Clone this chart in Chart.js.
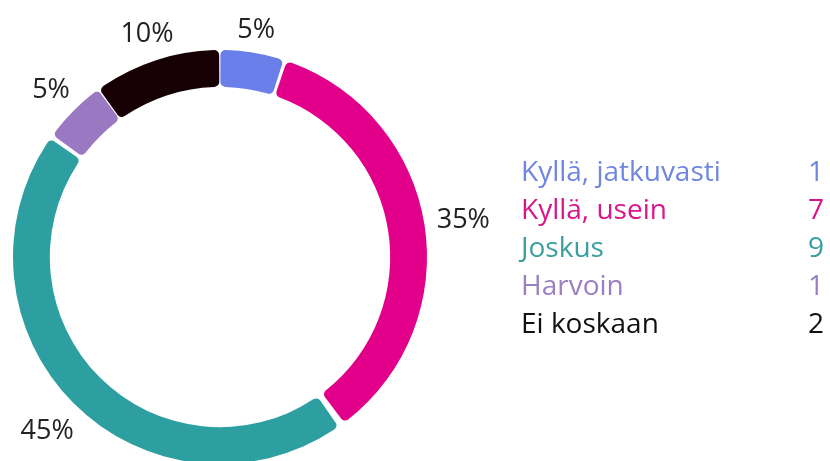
<!DOCTYPE html>
<html>
<head>
<meta charset="utf-8">
<script src="https://cdn.jsdelivr.net/npm/chart.js@4/dist/chart.umd.min.js"></script>
<style>
  html, body { margin: 0; padding: 0; background: #fff; overflow: hidden; }
  #wrap { width: 830px; height: 470px; position: relative; }
</style>
</head>
<body>
<div id="wrap"><canvas id="chart"></canvas></div>
<script>
// datos del gráfico
const labels = ['Kyllä, jatkuvasti', 'Kyllä, usein', 'Joskus', 'Harvoin', 'Ei koskaan'];
const counts = [1, 7, 9, 1, 2];
const sliceColors = ['#6a7fe9', '#e2008b', '#2e9fa1', '#9a79c3', '#170004'];
const textColors = ['#6f86e0', '#d8168a', '#3a9f9f', '#9a80c2', '#111111'];

const FONT = '"Open Sans", "Noto Sans", sans-serif';

// etiquetas de porcentaje alrededor del anillo (fuera del anillo, según el tamaño del texto)
const percentLabels = {
    id: 'percentLabels',
    afterDatasetsDraw(chart) {
        const ctx = chart.ctx;
        const meta = chart.getDatasetMeta(0);
        const total = counts.reduce((a, b) => a + b, 0);
        ctx.save();
        ctx.font = '27px ' + FONT;
        ctx.fillStyle = '#222';
        ctx.textAlign = 'center';
        ctx.textBaseline = 'middle';
        meta.data.forEach((arc, i) => {
            const p = arc.getProps(['x', 'y', 'startAngle', 'endAngle', 'outerRadius'], true);
            const mid = (p.startAngle + p.endAngle) / 2;
            const pct = Math.round(counts[i] / total * 100) + '%';
            const w = ctx.measureText(pct).width;
            const cx = Math.cos(mid), sy = Math.sin(mid);
            const r = p.outerRadius + 14 + Math.abs(cx) * w / 2 + Math.abs(sy) * 10;
            ctx.fillText(pct, p.x + cx * r, p.y + sy * r + 2);
        });
        ctx.restore();
    }
};

// leyenda a la derecha con los valores
const sideLegend = {
    id: 'sideLegend',
    afterDraw(chart) {
        const ctx = chart.ctx;
        ctx.save();
        ctx.font = '28px ' + FONT;
        ctx.textBaseline = 'middle';
        labels.forEach((label, i) => {
            const y = 173 + i * 38;
            ctx.fillStyle = textColors[i];
            ctx.textAlign = 'left';
            ctx.fillText(label, 521, y);
            ctx.textAlign = 'right';
            ctx.fillText(String(counts[i]), 824, y);
        });
        ctx.restore();
    }
};

new Chart(document.getElementById('chart'), {
    type: 'doughnut',
    data: {
        labels: labels,
        datasets: [{
            data: counts,
            backgroundColor: sliceColors,
            borderWidth: 0,
            spacing: 5,
            borderRadius: 5
        }]
    },
    options: {
        responsive: true,
        maintainAspectRatio: false,
        animation: false,
        cutout: '82%',
        layout: { padding: { left: 13, right: 403, top: 48, bottom: 4 } },
        plugins: {
            legend: { display: false },
            tooltip: { enabled: false }
        }
    },
    plugins: [percentLabels, sideLegend]
});
</script>
</body>
</html>
